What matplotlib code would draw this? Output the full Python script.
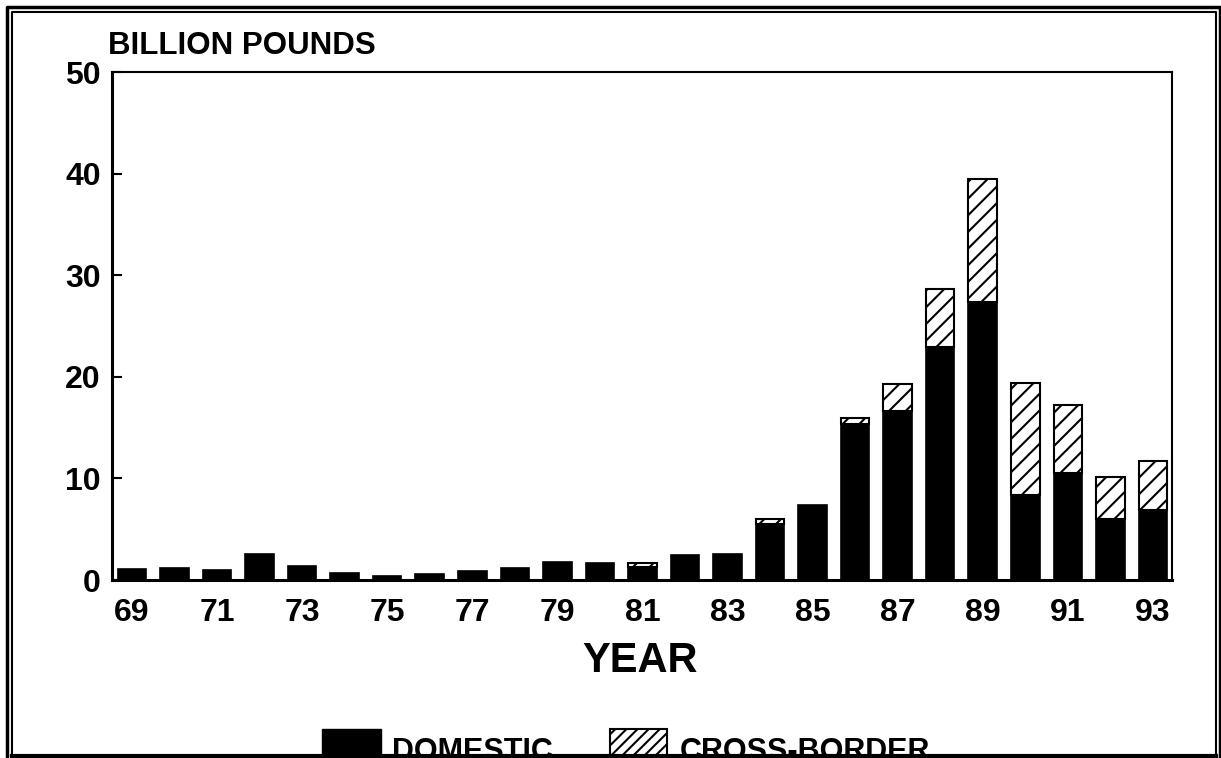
import numpy as np
import matplotlib.pyplot as plt
from matplotlib.lines import Line2D
from matplotlib.patches import Rectangle

plt.rcParams['font.family'] = ['Liberation Sans', 'DejaVu Sans']
plt.rcParams['font.weight'] = 'bold'
plt.rcParams['hatch.linewidth'] = 1.5

years = [69, 70, 71, 72, 73, 74, 75, 76, 77, 78, 79, 80, 81,
         82, 83, 84, 85, 86, 87, 88, 89, 90, 91, 92, 93]
domestic = [1.1, 1.2, 1.0, 2.6, 1.4, 0.7, 0.4, 0.55, 0.9, 1.2, 1.8, 1.7, 1.3,
            2.5, 2.6, 5.5, 7.4, 15.4, 16.6, 22.9, 27.4, 8.4, 10.5, 6.0, 6.9]
cross_border = [0, 0, 0, 0, 0, 0, 0, 0, 0, 0, 0, 0, 0.4,
                0, 0, 0.5, 0, 0.5, 2.7, 5.7, 12.1, 11.0, 6.7, 4.1, 4.8]
year_labels = ['69', '71', '73', '75', '77', '79', '81', '83', '85', '87', '89', '91', '93']
y_ticks = [0, 10, 20, 30, 40, 50]

W, H = 1221, 758
fig = plt.figure(figsize=(W / 100, H / 100), dpi=100)
ax = fig.add_axes([112 / W, 1 - 580 / H, (1172 - 112) / W, (580 - 72) / H])

def fx(px):
    return px / W

def fy(py):
    return 1 - py / H

ax.bar(years, domestic, width=0.67, color='black', edgecolor='black', linewidth=1.2)
cb = [c if c > 0 else np.nan for c in cross_border]
ax.bar(years, cb, bottom=domestic, width=0.67, color='white', edgecolor='black',
       linewidth=1.5, hatch='//')

ax.set_xlim(68.53, 93.45)
ax.set_ylim(0, 50)
ax.set_yticks(y_ticks)
ax.set_yticklabels([str(t) for t in y_ticks], fontsize=23, fontweight='bold')
ax.set_xticks([int(s) for s in year_labels])
ax.set_xticklabels(year_labels, fontsize=23, fontweight='bold')
ax.tick_params(axis='y', direction='in', length=7, width=1.5, pad=8)
ax.tick_params(axis='x', length=0, pad=13)
ax.spines['left'].set_linewidth(2.2)
ax.spines['bottom'].set_linewidth(2.2)
ax.spines['top'].set_linewidth(1.5)
ax.spines['right'].set_linewidth(1.5)

fig.text(fx(108), fy(46), 'BILLION POUNDS', fontsize=22.5, fontweight='bold', va='center', ha='left')
fig.text(fx(640), fy(661), 'YEAR', fontsize=30, fontweight='bold', va='center', ha='center')

# legend, cut off by the frame at the bottom
fig.add_artist(Rectangle((fx(322), fy(760)), fx(381) - fx(322), fy(729) - fy(760),
                         transform=fig.transFigure, facecolor='black', edgecolor='black'))
fig.text(fx(392), fy(737), 'DOMESTIC', fontsize=22, fontweight='bold', va='top', ha='left')
fig.add_artist(Rectangle((fx(610), fy(760)), fx(667) - fx(610), fy(729) - fy(760),
                         transform=fig.transFigure, facecolor='white', edgecolor='black',
                         linewidth=1.5, hatch='///'))
fig.text(fx(680), fy(737), 'CROSS-BORDER', fontsize=22, fontweight='bold', va='top', ha='left')

# double frame
def frame_line(xs, ys, lw):
    fig.add_artist(Line2D([fx(x) for x in xs], [fy(y) for y in ys], color='black',
                          linewidth=lw, transform=fig.transFigure, solid_capstyle='projecting'))

frame_line([7.5, 7.5, 1219.5, 1219.5], [770, 6.5, 6.5, 770], 2.5)
frame_line([11.5, 11.5, 1215.5, 1215.5], [755, 11.5, 11.5, 755], 1.5)
frame_line([11.5, 1215.5], [755.5, 755.5], 3.0)

fig.savefig('out.png', dpi=100)
